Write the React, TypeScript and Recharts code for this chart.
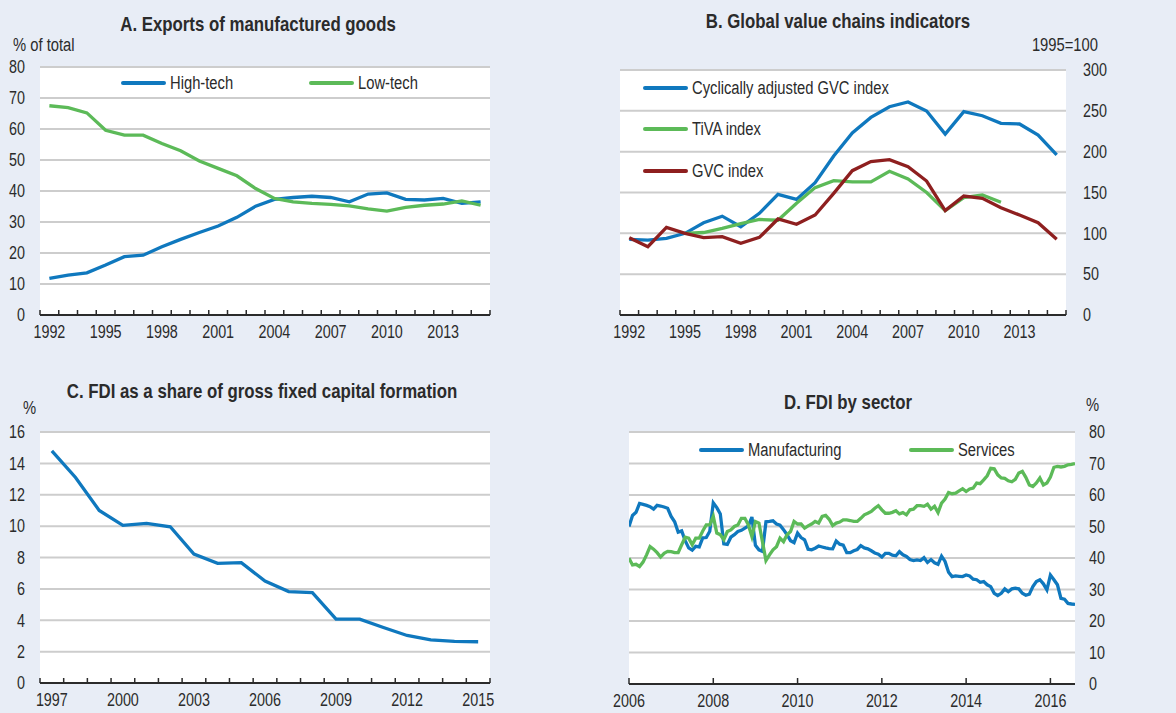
import React from 'react';
import { LineChart, Line, XAxis, YAxis, CartesianGrid } from 'recharts';

// Liberation Sans squeezed horizontally stands in for the condensed face of the original
const FONT = '"Liberation Sans", Arial, sans-serif';
const SQUEEZE = 0.82;
const BG = '#E8EDF6';
const INK = '#2B2B2B';
const GRID = '#CDCDCD';
const BLUE = '#0F78BE';
const GREEN = '#5CBA58';
const RED = '#8E1F1F';

// A. Exports of manufactured goods (% of total)
const yearsA = [1992, 1993, 1994, 1995, 1996, 1997, 1998, 1999, 2000, 2001, 2002, 2003,
  2004, 2005, 2006, 2007, 2008, 2009, 2010, 2011, 2012, 2013, 2014, 2015];
const highTech = [11.8, 12.9, 13.6, 16.1, 18.8, 19.3, 22.0, 24.4, 26.6, 28.7, 31.5, 35.1,
  37.3, 37.9, 38.3, 37.9, 36.5, 39.0, 39.4, 37.3, 37.1, 37.6, 36.0, 36.5];
const lowTech = [67.5, 66.9, 65.2, 59.6, 58.0, 58.0, 55.3, 53.0, 49.7, 47.3, 44.9, 40.8,
  37.6, 36.5, 36.0, 35.7, 35.2, 34.2, 33.5, 34.7, 35.4, 35.8, 36.8, 35.4];

// B. Global value chains indicators (1995=100)
const yearsB = yearsA;
const cyclicalGvc = [92.7, 91.8, 93.9, 100, 113, 121, 108, 124.5, 147.8, 141.6, 162, 194.7,
  223, 242, 255, 260.8, 249.8, 221.6, 249, 244, 234.7, 233.9, 220.4, 196];
const tivaIndex = [null, null, null, 100, 101, 106, 112, 117, 116, 136.7, 156, 164.5,
  163, 163, 176, 166.5, 150, 127.8, 143.7, 147, 138, null, null, null];
const gvcIndex = [94.7, 83.7, 107.3, 100, 94.7, 96, 87.8, 95, 117.6, 111, 122.4, 149,
  176.7, 187.8, 190.2, 181.6, 164, 127.8, 145.7, 142.9, 131.4, 122.4, 113, 92.7];

// C. FDI as a share of gross fixed capital formation (%)
const yearsC = [1997, 1998, 1999, 2000, 2001, 2002, 2003, 2004, 2005, 2006, 2007, 2008,
  2009, 2010, 2011, 2012, 2013, 2014, 2015];
const fdiShare = [14.8, 13.1, 11.0, 10.05, 10.17, 9.96, 8.22, 7.63, 7.67, 6.5, 5.83, 5.76,
  4.07, 4.07, 3.54, 3.03, 2.75, 2.65, 2.63];

// D. FDI by sector (%), monthly from January 2006
const startD = 2006;
const manufacturing = [
  50, 53.5, 54.5, 57.3, 57, 56.7, 56.3, 55.5, 56.7, 56.5, 56.2, 55.8,
  53.2, 51.5, 48.2, 48.6, 45.5, 43.2, 42.5, 43.7, 43.5, 46.4, 46.5, 48.5,
  57.5, 56, 54, 44.5, 44.3, 46.6, 47.4, 48.4, 48.8, 49.5, 50.2, 53,
  44, 42.6, 42.1, 51.5, 51.6, 51.8, 50.8, 50.4, 49, 47.4, 45.5, 44.9,
  47.9, 46.5, 45.8, 42.8, 42.6, 43.1, 43.8, 43.5, 43.2, 43, 42.9, 45.4,
  44.4, 44.1, 41.7, 41.7, 42.3, 42.7, 43.9, 43.2, 42.9, 42.3, 41.6, 41.2,
  40.3, 41.5, 41.5, 40.9, 40.7, 42, 41, 40.5, 39.5, 39.2, 39.4, 39.2,
  40.1, 38.6, 39.5, 38.5, 38, 40.6, 38.9, 35.5, 34.1, 34.3, 34.2, 34.1,
  34.6, 34.3, 33.3, 33.1, 32.3, 32.5, 31.5, 30.9, 28.8, 28.1, 28.8, 30.2,
  29.3, 30.2, 30.4, 30.2, 28.8, 28.2, 28.5, 30.9, 32.5, 33.1, 31.8, 29.9,
  34.6, 33.1, 31.5, 27.2, 26.9, 25.6, 25.4, 25.3];
const services = [
  39.9, 37.8, 38, 37.3, 38.7, 41, 43.6, 42.8, 41.7, 40.3, 41.5, 42.1,
  42, 41.7, 41.7, 44.2, 46.6, 46.3, 44.2, 46.3, 46.3, 48.6, 50.5, 50.5,
  53.2, 47.9, 47.4, 45.8, 48.4, 48.9, 50, 50.5, 52.6, 52.6, 50.5, 46.8,
  51.6, 51.1, 45.2, 39.2, 41, 42.6, 43.6, 46.3, 45.2, 47.4, 48.4, 51.6,
  50.8, 50.8, 49.5, 50.2, 50.8, 51.6, 51.1, 53.2, 53.5, 52.3, 50.3, 51.1,
  51.4, 52.1, 52.1, 51.9, 51.6, 51.6, 52.6, 53.7, 54.2, 54.8, 55.8, 56.6,
  55.3, 54.2, 54.2, 54.5, 55, 54, 54.4, 53.7, 55.3, 55.5, 56.6, 56.6,
  56.4, 57.1, 55.5, 56.4, 54.4, 57.4, 58.7, 60.8, 60.4, 60.6, 61.3, 62,
  61.1, 61.9, 62.2, 63.8, 63.6, 64.8, 66.1, 68.5, 68.3, 66.4, 65.4, 65.3,
  64.5, 64.2, 65, 67, 67.5, 65.6, 63.2, 62.7, 63.8, 65.4, 63.2, 63.8,
  65.7, 68.8, 69.1, 68.9, 69.1, 69.6, 69.7, 70];

const dataA = yearsA.map((year, i) => ({ year, high: highTech[i], low: lowTech[i] }));
const dataB = yearsB.map((year, i) => ({ year, cyc: cyclicalGvc[i], tiva: tivaIndex[i], gvc: gvcIndex[i] }));
const dataC = yearsC.map((year, i) => ({ year, fdi: fdiShare[i] }));
const dataD = manufacturing.map((m, i) => ({ t: startD + i / 12, manuf: m, serv: services[i] }));

const range = (a: number, b: number, step: number) => {
  const out: number[] = [];
  for (let v = a; v <= b + 1e-9; v += step) out.push(v);
  return out;
};

const TICK_SIZE = 17.5;

const SvgText = ({ x, y, anchor = 'middle', children }: any) => (
  <text transform={`translate(${x} ${y}) scale(${SQUEEZE} 1)`} textAnchor={anchor}
    fontFamily={FONT} fontSize={TICK_SIZE} fill={INK}>{children}</text>
);

// tick marks at year boundaries pointing up, labels centred in each year band
const bandTick = (bandPx: number, first: number, last: number, every: number) => (props: any) => {
  const { x, y, payload } = props;
  const year = Math.round(payload.value + 0.5);
  const show = year <= last && (year - first) % every === 0;
  return (
    <g>
      <line x1={x} x2={x} y1={y} y2={y - 5} stroke={INK} strokeWidth={1.5} />
      {show && <SvgText x={x + bandPx / 2} y={y + 23}>{year}</SvgText>}
    </g>
  );
};

const pointTick = (props: any) => {
  const { x, y, payload } = props;
  return (
    <g>
      <line x1={x} x2={x} y1={y} y2={y - 6} stroke={INK} strokeWidth={1.5} />
      <SvgText x={x} y={y + 23}>{payload.value}</SvgText>
    </g>
  );
};

const yTick = (anchor: string) => (props: any) => {
  const { x, y, payload } = props;
  return <SvgText x={x} y={y + 6.3} anchor={anchor}>{payload.value}</SvgText>;
};

const Label = ({ x, y, children, bold = false, size = 18, anchor = 'center' }: any) => {
  const shift = anchor === 'center' ? '-50%' : anchor === 'end' ? '-100%' : '0';
  const origin = anchor === 'center' ? 'center' : anchor === 'end' ? 'right' : 'left';
  return (
    <div style={{
      position: 'absolute', left: x, top: y, whiteSpace: 'nowrap',
      transform: `translate(${shift}, -50%) scaleX(${SQUEEZE})`, transformOrigin: `${origin} center`,
      fontFamily: FONT, fontSize: size, fontWeight: bold ? 700 : 400, color: INK, lineHeight: 1,
    }}>{children}</div>
  );
};

const Key = ({ x, y, color, text }: any) => (
  <>
    <div style={{ position: 'absolute', left: x, top: y - 1.6, width: 45, height: 3.4, background: color, borderRadius: 2 }} />
    <Label x={x + 49} y={y} anchor="start">{text}</Label>
  </>
);

const axisLineStyle = { stroke: INK, strokeWidth: 2 };
const TITLE = 20.5;

export default function App() {
  return (
    <div style={{ position: 'absolute', left: 0, top: 0, width: 1176, height: 713, background: BG, overflow: 'hidden' }}>
      {/* Panel A */}
      <div style={{ position: 'absolute', left: 0, top: 0 }}>
        <LineChart width={588} height={356} data={dataA} margin={{ top: 67, right: 98, left: 10, bottom: 11 }}>
          <CartesianGrid vertical={false} fill="#ffffff" stroke={GRID} strokeWidth={2} />
          <XAxis dataKey="year" type="number" domain={[1991.5, 2015.5]} ticks={range(1991.5, 2015.5, 1)}
            interval={0} height={30} tickSize={0} tickMargin={0} tickLine={false}
            axisLine={axisLineStyle} tick={bandTick(450 / 24, 1992, 2015, 3)} />
          <YAxis domain={[0, 80]} ticks={range(0, 80, 10)} interval={0} width={30} tickSize={0} tickMargin={15}
            axisLine={false} tickLine={false} tick={yTick('end')} />
          <Line dataKey="high" stroke={BLUE} strokeWidth={3.3} dot={false} isAnimationActive={false} />
          <Line dataKey="low" stroke={GREEN} strokeWidth={3.3} dot={false} isAnimationActive={false} />
        </LineChart>
      </div>
      <Label x={258} y={24} bold size={TITLE}>A. Exports of manufactured goods</Label>
      <Label x={13} y={45} anchor="start">% of total</Label>
      <Key x={121} y={83} color={BLUE} text="High-tech" />
      <Key x={309} y={83} color={GREEN} text="Low-tech" />

      {/* Panel B */}
      <div style={{ position: 'absolute', left: 588, top: 0 }}>
        <LineChart width={588} height={356} data={dataB} margin={{ top: 70, right: 60, left: 32, bottom: 11 }}>
          <CartesianGrid vertical={false} fill="#ffffff" stroke={GRID} strokeWidth={2} />
          <XAxis dataKey="year" type="number" domain={[1991.5, 2015.5]} ticks={range(1991.5, 2015.5, 1)}
            interval={0} height={30} tickSize={0} tickMargin={0} tickLine={false}
            axisLine={axisLineStyle} tick={bandTick(446 / 24, 1992, 2015, 3)} />
          <YAxis orientation="right" domain={[0, 300]} ticks={range(0, 300, 50)} interval={0} width={50}
            tickSize={0} tickMargin={17} axisLine={false} tickLine={false} tick={yTick('start')} />
          <Line dataKey="cyc" stroke={BLUE} strokeWidth={3.3} dot={false} isAnimationActive={false} />
          <Line dataKey="tiva" stroke={GREEN} strokeWidth={3.3} dot={false} isAnimationActive={false} />
          <Line dataKey="gvc" stroke={RED} strokeWidth={3.3} dot={false} isAnimationActive={false} />
        </LineChart>
      </div>
      <Label x={838} y={21} bold size={TITLE}>B. Global value chains indicators</Label>
      <Label x={1098} y={45} anchor="end">1995=100</Label>
      <Key x={643} y={88} color={BLUE} text="Cyclically adjusted GVC index" />
      <Key x={643} y={129} color={GREEN} text="TiVA index" />
      <Key x={643} y={171} color={RED} text="GVC index" />

      {/* Panel C */}
      <div style={{ position: 'absolute', left: 0, top: 356 }}>
        <LineChart width={588} height={357} data={dataC} margin={{ top: 76, right: 98, left: 10, bottom: 5 }}>
          <CartesianGrid vertical={false} fill="#ffffff" stroke={GRID} strokeWidth={2} />
          <XAxis dataKey="year" type="number" domain={[1996.5, 2015.5]} ticks={range(1996.5, 2015.5, 1)}
            interval={0} height={25} tickSize={0} tickMargin={0} tickLine={false}
            axisLine={axisLineStyle} tick={bandTick(450 / 19, 1997, 2015, 3)} />
          <YAxis domain={[0, 16]} ticks={range(0, 16, 2)} interval={0} width={30} tickSize={0} tickMargin={15}
            axisLine={false} tickLine={false} tick={yTick('end')} />
          <Line dataKey="fdi" stroke={BLUE} strokeWidth={3.3} dot={false} isAnimationActive={false} />
        </LineChart>
      </div>
      <Label x={262} y={391} bold size={TITLE}>C. FDI as a share of gross fixed capital formation</Label>
      <Label x={23} y={408} anchor="start">%</Label>

      {/* Panel D */}
      <div style={{ position: 'absolute', left: 588, top: 356 }}>
        <LineChart width={588} height={357} data={dataD} margin={{ top: 76, right: 51, left: 41, bottom: 4 }}>
          <CartesianGrid vertical={false} fill="#ffffff" stroke={GRID} strokeWidth={2} />
          <XAxis dataKey="t" type="number" domain={[startD, startD + (manufacturing.length - 1) / 12]}
            ticks={range(2006, 2016, 2)} interval={0} height={25} tickSize={0} tickMargin={0}
            tickLine={false} axisLine={axisLineStyle} tick={pointTick} allowDataOverflow />
          <YAxis orientation="right" domain={[0, 80]} ticks={range(0, 80, 10)} interval={0} width={50}
            tickSize={0} tickMargin={14} axisLine={false} tickLine={false} tick={yTick('start')} />
          <Line dataKey="manuf" stroke={BLUE} strokeWidth={3.3} dot={false} isAnimationActive={false} />
          <Line dataKey="serv" stroke={GREEN} strokeWidth={3.3} dot={false} isAnimationActive={false} />
        </LineChart>
      </div>
      <Label x={848} y={402} bold size={TITLE}>D. FDI by sector</Label>
      <Label x={1086} y={405} anchor="start">%</Label>
      <Key x={699} y={450} color={BLUE} text="Manufacturing" />
      <Key x={909} y={450} color={GREEN} text="Services" />
    </div>
  );
}
